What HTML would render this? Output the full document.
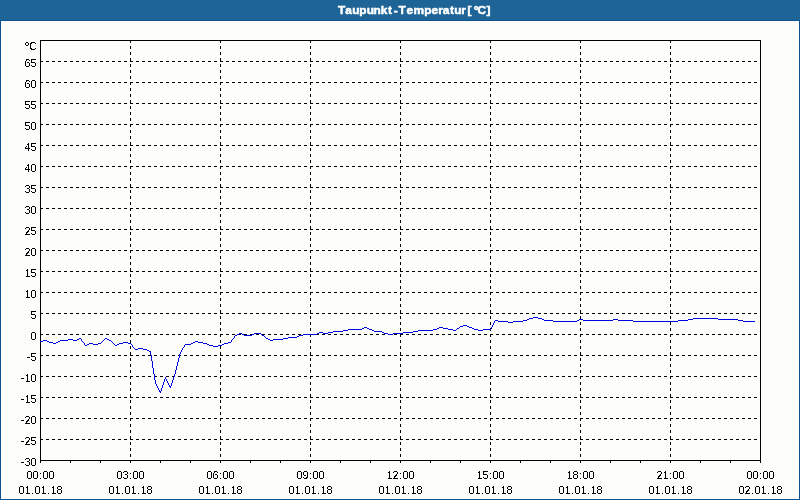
<!DOCTYPE html>
<html><head><meta charset="utf-8"><title>Taupunkt-Temperatur [°C]</title>
<style>
html,body{margin:0;padding:0;background:#fdfefc;}
body{width:800px;height:500px;overflow:hidden;position:relative;font-family:"Liberation Sans",sans-serif;}
svg{display:block;position:absolute;left:0;top:0}
text{font-family:"Liberation Sans",sans-serif;font-size:11px;fill:#000}
.title text{font-weight:bold;fill:#fff}
</style></head><body>
<svg width="800" height="500" viewBox="0 0 800 500">
<defs><filter id="th" x="0" y="0" width="800" height="500" filterUnits="userSpaceOnUse" color-interpolation-filters="sRGB"><feComponentTransfer><feFuncA type="discrete" tableValues="0 1"/></feComponentTransfer></filter><filter id="idf" x="0" y="0" width="800" height="500" filterUnits="userSpaceOnUse"><feOffset dx="0" dy="0"/></filter></defs>
<rect x="0" y="0" width="800" height="500" fill="#0b5390"/>
<rect x="0" y="0" width="800" height="20" fill="#1e6496"/>
<rect x="1" y="21" width="798" height="478" fill="#fdfefc"/>
<g class="title" filter="url(#idf)"><text stroke="#fff" stroke-width="0.5" transform="scale(1.08,1)" x="313.07 319.66 326.06 332.61 339.49 345.92 352.57 359.28 364.61 369.09 376.31 382.82 392.8 399.46 405.8 409.94 416.69 420.5 426.98 431.48 432.93 438.65 442.25 450.38" y="14">Taupunkt-Temperatur [°C]</text></g>
<g stroke="#000" stroke-width="1" stroke-dasharray="3 3" shape-rendering="crispEdges"><line x1="40" y1="439.5" x2="761" y2="439.5"/><line x1="40" y1="418.5" x2="761" y2="418.5"/><line x1="40" y1="397.5" x2="761" y2="397.5"/><line x1="40" y1="376.5" x2="761" y2="376.5"/><line x1="40" y1="355.5" x2="761" y2="355.5"/><line x1="40" y1="334.5" x2="761" y2="334.5"/><line x1="40" y1="313.5" x2="761" y2="313.5"/><line x1="40" y1="292.5" x2="761" y2="292.5"/><line x1="40" y1="271.5" x2="761" y2="271.5"/><line x1="40" y1="250.5" x2="761" y2="250.5"/><line x1="40" y1="229.5" x2="761" y2="229.5"/><line x1="40" y1="208.5" x2="761" y2="208.5"/><line x1="40" y1="187.5" x2="761" y2="187.5"/><line x1="40" y1="166.5" x2="761" y2="166.5"/><line x1="40" y1="145.5" x2="761" y2="145.5"/><line x1="40" y1="124.5" x2="761" y2="124.5"/><line x1="40" y1="103.5" x2="761" y2="103.5"/><line x1="40" y1="82.5" x2="761" y2="82.5"/><line x1="40" y1="61.5" x2="761" y2="61.5"/><line x1="130.5" y1="40" x2="130.5" y2="461"/><line x1="220.5" y1="40" x2="220.5" y2="461"/><line x1="310.5" y1="40" x2="310.5" y2="461"/><line x1="400.5" y1="40" x2="400.5" y2="461"/><line x1="490.5" y1="40" x2="490.5" y2="461"/><line x1="580.5" y1="40" x2="580.5" y2="461"/><line x1="670.5" y1="40" x2="670.5" y2="461"/></g>
<rect x="40.5" y="40.5" width="720" height="420" fill="none" stroke="#000" stroke-width="1" shape-rendering="crispEdges"/>
<g stroke="#000" stroke-width="1" shape-rendering="crispEdges"><line x1="40.5" y1="461" x2="40.5" y2="463"/><line x1="70.5" y1="461" x2="70.5" y2="463"/><line x1="100.5" y1="461" x2="100.5" y2="463"/><line x1="130.5" y1="461" x2="130.5" y2="463"/><line x1="160.5" y1="461" x2="160.5" y2="463"/><line x1="190.5" y1="461" x2="190.5" y2="463"/><line x1="220.5" y1="461" x2="220.5" y2="463"/><line x1="250.5" y1="461" x2="250.5" y2="463"/><line x1="280.5" y1="461" x2="280.5" y2="463"/><line x1="310.5" y1="461" x2="310.5" y2="463"/><line x1="340.5" y1="461" x2="340.5" y2="463"/><line x1="370.5" y1="461" x2="370.5" y2="463"/><line x1="400.5" y1="461" x2="400.5" y2="463"/><line x1="430.5" y1="461" x2="430.5" y2="463"/><line x1="460.5" y1="461" x2="460.5" y2="463"/><line x1="490.5" y1="461" x2="490.5" y2="463"/><line x1="520.5" y1="461" x2="520.5" y2="463"/><line x1="550.5" y1="461" x2="550.5" y2="463"/><line x1="580.5" y1="461" x2="580.5" y2="463"/><line x1="610.5" y1="461" x2="610.5" y2="463"/><line x1="640.5" y1="461" x2="640.5" y2="463"/><line x1="670.5" y1="461" x2="670.5" y2="463"/><line x1="700.5" y1="461" x2="700.5" y2="463"/><line x1="730.5" y1="461" x2="730.5" y2="463"/><line x1="760.5" y1="461" x2="760.5" y2="463"/></g>
<g filter="url(#th)"><text y="50"><tspan x="24.2" y="52" font-size="14.3">°</tspan><tspan x="29" y="50">C</tspan></text><text x="20.6 24.5 30.5" y="465 466 466">-30</text><text x="20.6 24.5 30.5" y="444 445 445">-25</text><text x="20.6 24.5 30.5" y="423 424 424">-20</text><text x="20.6 24.5 30.5" y="402 403 403">-15</text><text x="20.6 24.5 30.5" y="381 382 382">-10</text><text x="26.6 30.5" y="360 361">-5</text><text x="30.5" y="340">0</text><text x="30.5" y="319">5</text><text x="24.5 30.5" y="298">10</text><text x="24.5 30.5" y="277">15</text><text x="24.5 30.5" y="256">20</text><text x="24.5 30.5" y="235">25</text><text x="24.5 30.5" y="214">30</text><text x="24.5 30.5" y="193">35</text><text x="24.5 30.5" y="172">40</text><text x="24.5 30.5" y="151">45</text><text x="24.5 30.5" y="130">50</text><text x="24.5 30.5" y="109">55</text><text x="24.5 30.5" y="88">60</text><text x="24.5 30.5" y="67">65</text></g>
<g filter="url(#th)"><text x="26.5 32.5 39 42.5 48.5" y="479">00:00</text><text x="18.5 24.5 31 34.5 40.5 47 50.5 56.5" y="494">01.01.18</text><text x="116.5 122.5 129 132.5 138.5" y="479">03:00</text><text x="108.5 114.5 121 124.5 130.5 137 140.5 146.5" y="494">01.01.18</text><text x="206.5 212.5 219 222.5 228.5" y="479">06:00</text><text x="198.5 204.5 211 214.5 220.5 227 230.5 236.5" y="494">01.01.18</text><text x="296.5 302.5 309 312.5 318.5" y="479">09:00</text><text x="288.5 294.5 301 304.5 310.5 317 320.5 326.5" y="494">01.01.18</text><text x="386.5 392.5 399 402.5 408.5" y="479">12:00</text><text x="378.5 384.5 391 394.5 400.5 407 410.5 416.5" y="494">01.01.18</text><text x="476.5 482.5 489 492.5 498.5" y="479">15:00</text><text x="468.5 474.5 481 484.5 490.5 497 500.5 506.5" y="494">01.01.18</text><text x="566.5 572.5 579 582.5 588.5" y="479">18:00</text><text x="558.5 564.5 571 574.5 580.5 587 590.5 596.5" y="494">01.01.18</text><text x="656.5 662.5 669 672.5 678.5" y="479">21:00</text><text x="648.5 654.5 661 664.5 670.5 677 680.5 686.5" y="494">01.01.18</text><text x="746.5 752.5 759 762.5 768.5" y="479">00:00</text><text x="738.5 744.5 751 754.5 760.5 767 770.5 776.5" y="494">02.01.18</text></g>
<path fill="#0000e0" shape-rendering="crispEdges" d="M40 341h3v1h-3zM43 340h4v1h-4zM47 341h2v1h-2zM49 342h4v1h-4zM53 343h3v1h-3zM56 342h2v1h-2zM58 341h2v1h-2zM60 340h8v1h-8zM68 339h5v1h-5zM73 340h4v1h-4zM77 339h2v1h-2zM79 338h2v1h-2zM81 339h1v2h-1zM82 341h1v1h-1zM83 342h1v1h-1zM84 343h1v2h-1zM85 345h2v1h-2zM87 344h2v1h-2zM89 343h4v1h-4zM93 344h5v1h-5zM98 343h3v1h-3zM101 342h1v1h-1zM102 341h1v1h-1zM103 340h1v1h-1zM104 339h1v1h-1zM105 338h2v1h-2zM107 339h2v1h-2zM109 340h2v1h-2zM111 341h1v1h-1zM112 342h1v1h-1zM113 343h1v1h-1zM114 344h1v1h-1zM115 345h2v1h-2zM117 344h2v1h-2zM119 343h4v1h-4zM123 342h5v1h-5zM128 343h3v1h-3zM131 344h1v1h-1zM132 345h1v2h-1zM133 347h1v1h-1zM134 348h1v1h-1zM135 349h3v1h-3zM138 348h5v1h-5zM143 349h4v1h-4zM147 350h2v1h-2zM149 351h1v1h-1zM150 351h1v4h-1zM151 355h1v6h-1zM152 361h1v7h-1zM153 368h1v6h-1zM154 374h1v6h-1zM155 380h1v4h-1zM156 384h1v2h-1zM157 386h1v2h-1zM158 388h1v2h-1zM159 390h1v2h-1zM160 391h1v2h-1zM161 388h1v3h-1zM162 385h1v3h-1zM163 382h1v3h-1zM164 379h1v3h-1zM165 377h1v2h-1zM166 379h1v2h-1zM167 381h1v2h-1zM168 383h1v2h-1zM169 385h1v2h-1zM170 386h1v2h-1zM171 383h1v3h-1zM172 380h1v3h-1zM173 377h1v3h-1zM174 374h1v3h-1zM175 370h1v4h-1zM176 366h1v4h-1zM177 362h1v4h-1zM178 358h1v4h-1zM179 354h1v4h-1zM180 352h1v2h-1zM181 350h1v2h-1zM182 348h1v2h-1zM183 347h1v1h-1zM184 345h1v2h-1zM185 344h6v1h-6zM191 343h2v1h-2zM193 342h2v1h-2zM195 341h3v1h-3zM198 342h5v1h-5zM203 343h4v1h-4zM207 344h2v1h-2zM209 345h4v1h-4zM213 346h5v1h-5zM218 345h4v1h-4zM222 344h2v1h-2zM224 343h4v1h-4zM228 342h3v1h-3zM231 340h1v2h-1zM232 339h1v1h-1zM233 338h1v1h-1zM234 336h1v2h-1zM235 335h2v1h-2zM237 334h2v1h-2zM239 333h3v1h-3zM242 334h2v1h-2zM244 335h8v1h-8zM252 334h2v1h-2zM254 333h7v1h-7zM261 334h1v1h-1zM262 335h2v1h-2zM264 336h1v1h-1zM265 337h1v1h-1zM266 338h2v1h-2zM268 339h2v1h-2zM270 340h3v1h-3zM273 339h10v1h-10zM283 338h5v1h-5zM288 337h9v1h-9zM297 336h2v1h-2zM299 335h4v1h-4zM303 334h14v1h-14zM317 333h2v1h-2zM319 332h4v1h-4zM323 333h5v1h-5zM328 332h5v1h-5zM333 331h10v1h-10zM343 330h5v1h-5zM348 329h14v1h-14zM362 328h2v1h-2zM364 327h3v1h-3zM367 328h2v1h-2zM369 329h3v1h-3zM372 330h2v1h-2zM374 331h8v1h-8zM382 332h2v1h-2zM384 333h4v1h-4zM388 334h5v1h-5zM393 333h10v1h-10zM403 332h10v1h-10zM413 331h5v1h-5zM418 330h15v1h-15zM433 329h4v1h-4zM437 328h2v1h-2zM439 327h4v1h-4zM443 328h5v1h-5zM448 329h5v1h-5zM453 330h3v1h-3zM456 329h1v1h-1zM457 328h2v1h-2zM459 327h1v1h-1zM460 326h3v1h-3zM463 325h4v1h-4zM467 326h2v1h-2zM469 327h3v1h-3zM472 328h2v1h-2zM474 329h4v1h-4zM478 330h5v1h-5zM483 329h8v1h-8zM491 327h1v2h-1zM492 325h1v2h-1zM493 323h1v2h-1zM494 321h1v2h-1zM495 320h3v1h-3zM498 321h10v1h-10zM508 322h5v1h-5zM513 321h10v1h-10zM523 320h4v1h-4zM527 319h2v1h-2zM529 318h4v1h-4zM533 317h5v1h-5zM538 318h4v1h-4zM542 319h2v1h-2zM544 320h9v1h-9zM553 321h24v1h-24zM577 320h2v1h-2zM579 319h4v1h-4zM583 320h30v1h-30zM613 319h5v1h-5zM618 320h15v1h-15zM633 321h45v1h-45zM678 320h10v1h-10zM688 319h5v1h-5zM693 318h25v1h-25zM718 319h20v1h-20zM738 320h5v1h-5zM743 321h12v1h-12z"/>
</svg></body></html>
